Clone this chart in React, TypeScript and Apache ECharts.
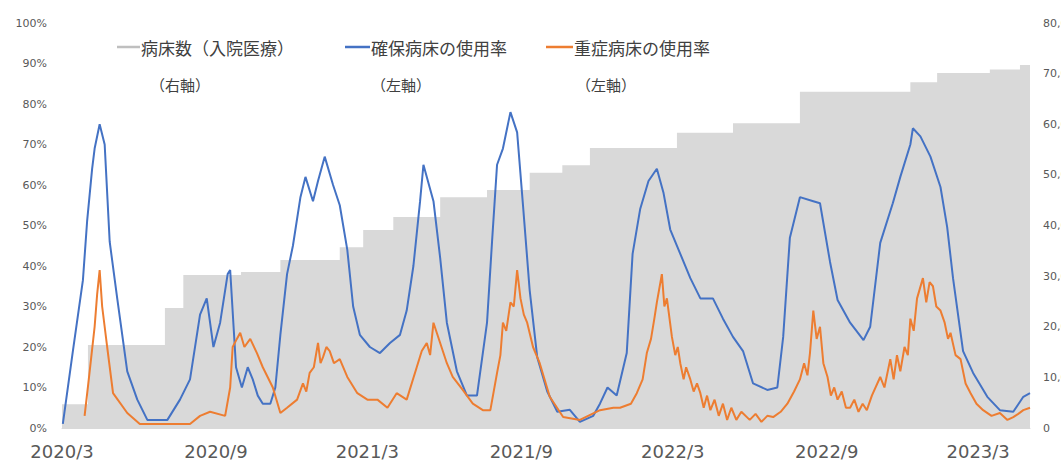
import React, { useEffect, useRef } from "react";
import * as echarts from "echarts";

const START_DATE = "2020-03-01";
const END_DATE = "2023-05-02";

const tickDates = ["2020-03-01", "2020-09-01", "2021-03-01", "2021-09-01", "2022-03-01", "2022-09-01", "2023-03-01"];
const tickLabels = ["2020/3", "2020/9", "2021/3", "2021/9", "2022/3", "2022/9", "2023/3"];

const legendNames = ["病床数（入院医療）", "確保病床の使用率", "重症病床の使用率"];
const legendSubs = ["（右軸）", "（左軸）", "（左軸）"];

// 病床数（入院医療）, right axis, step levels
const bedsData: [string, number][] = [
  ["2020-03-01", 4700], ["2020-04-01", 16400], ["2020-07-02", 23700], ["2020-07-24", 30200],
  ["2020-10-01", 30800], ["2020-11-17", 33200], ["2021-01-27", 35700], ["2021-02-24", 39100],
  ["2021-04-01", 41700], ["2021-05-27", 45600], ["2021-07-22", 47000], ["2021-09-11", 50400],
  ["2021-10-20", 51900], ["2021-11-22", 55300], ["2022-03-06", 58300], ["2022-05-12", 60200],
  ["2022-07-31", 66400], ["2022-12-10", 68300], ["2023-01-11", 70100], ["2023-03-15", 70800],
  ["2023-04-20", 71700], ["2023-05-02", 71700],
];

// 確保病床の使用率 (%)
const securedRate: [string, number][] = [
  ["2020-03-02", 1], ["2020-03-14", 19], ["2020-03-26", 36.5], ["2020-03-31", 51], ["2020-04-06", 64],
  ["2020-04-09", 69], ["2020-04-15", 75], ["2020-04-21", 70], ["2020-04-27", 46], ["2020-05-06", 32],
  ["2020-05-18", 14], ["2020-05-30", 7], ["2020-06-11", 2], ["2020-07-05", 2], ["2020-07-20", 7],
  ["2020-08-01", 12], ["2020-08-13", 28], ["2020-08-21", 32], ["2020-08-29", 20], ["2020-09-06", 26],
  ["2020-09-15", 38], ["2020-09-18", 39], ["2020-09-25", 15], ["2020-10-02", 10], ["2020-10-09", 15],
  ["2020-10-15", 12], ["2020-10-21", 8], ["2020-10-27", 6], ["2020-11-05", 6], ["2020-11-11", 10],
  ["2020-11-17", 23], ["2020-11-25", 38], ["2020-12-02", 45], ["2020-12-11", 57], ["2020-12-17", 62],
  ["2020-12-26", 56], ["2021-01-01", 61], ["2021-01-09", 67], ["2021-01-19", 60], ["2021-01-27", 55],
  ["2021-02-05", 44], ["2021-02-12", 30], ["2021-02-20", 23], ["2021-03-04", 20], ["2021-03-16", 18.5],
  ["2021-03-28", 21], ["2021-04-09", 23], ["2021-04-17", 29], ["2021-04-25", 40], ["2021-05-03", 56],
  ["2021-05-07", 65], ["2021-05-19", 56], ["2021-05-27", 42], ["2021-06-04", 26], ["2021-06-16", 14],
  ["2021-06-28", 8], ["2021-07-10", 8], ["2021-07-22", 26], ["2021-07-28", 46], ["2021-08-03", 65],
  ["2021-08-10", 69], ["2021-08-19", 78], ["2021-08-27", 73], ["2021-09-03", 55], ["2021-09-11", 34],
  ["2021-09-20", 17.5], ["2021-10-02", 9], ["2021-10-14", 4], ["2021-10-29", 4.5], ["2021-11-10", 1.5],
  ["2021-11-26", 3], ["2021-12-04", 6], ["2021-12-13", 10], ["2021-12-24", 8], ["2022-01-05", 18.5],
  ["2022-01-12", 43], ["2022-01-21", 54], ["2022-01-31", 61], ["2022-02-10", 64], ["2022-02-18", 58],
  ["2022-02-26", 49], ["2022-03-10", 43], ["2022-03-22", 37], ["2022-04-03", 32], ["2022-04-18", 32],
  ["2022-04-30", 27], ["2022-05-12", 22.5], ["2022-05-24", 19], ["2022-06-05", 11], ["2022-06-22", 9.4],
  ["2022-07-04", 10], ["2022-07-11", 22.5], ["2022-07-19", 47], ["2022-07-31", 57], ["2022-08-16", 56],
  ["2022-08-24", 55.5], ["2022-09-05", 41], ["2022-09-14", 31.6], ["2022-09-29", 26], ["2022-10-15", 21.7],
  ["2022-10-23", 25], ["2022-11-04", 45.7], ["2022-11-19", 55.5], ["2022-11-28", 62], ["2022-12-10", 70],
  ["2022-12-13", 74], ["2022-12-22", 72], ["2023-01-03", 67], ["2023-01-15", 59.5], ["2023-01-23", 49.6],
  ["2023-01-30", 37], ["2023-02-11", 19], ["2023-02-23", 13.6], ["2023-03-12", 7.7], ["2023-03-27", 4.4],
  ["2023-04-12", 4], ["2023-04-24", 7.7], ["2023-05-02", 8.6],
];

// 重症病床の使用率 (%)
const severeRate: [string, number][] = [
  ["2020-03-28", 3], ["2020-04-02", 12], ["2020-04-09", 25], ["2020-04-12", 33], ["2020-04-15", 39],
  ["2020-04-18", 30], ["2020-04-24", 20], ["2020-05-01", 8.6], ["2020-05-18", 3.7], ["2020-06-02", 1],
  ["2020-08-01", 1], ["2020-08-13", 3], ["2020-08-25", 4], ["2020-09-12", 3], ["2020-09-18", 10],
  ["2020-09-21", 20], ["2020-09-26", 22], ["2020-09-30", 23.5], ["2020-10-05", 20], ["2020-10-12", 22],
  ["2020-10-20", 18.5], ["2020-10-27", 15], ["2020-11-08", 10], ["2020-11-17", 3.7], ["2020-11-25", 5],
  ["2020-12-07", 7], ["2020-12-14", 11], ["2020-12-18", 9], ["2020-12-22", 13.6], ["2020-12-27", 15],
  ["2021-01-01", 21], ["2021-01-04", 16], ["2021-01-07", 17.5], ["2021-01-11", 20], ["2021-01-15", 19],
  ["2021-01-20", 16], ["2021-01-27", 17], ["2021-02-05", 12.6], ["2021-02-17", 8.6], ["2021-03-01", 7],
  ["2021-03-13", 7], ["2021-03-25", 5], ["2021-04-05", 8.6], ["2021-04-17", 7], ["2021-04-29", 15],
  ["2021-05-05", 19], ["2021-05-11", 21], ["2021-05-15", 18], ["2021-05-19", 26], ["2021-05-27", 21],
  ["2021-06-04", 16], ["2021-06-11", 12.6], ["2021-06-23", 9.4], ["2021-07-05", 6], ["2021-07-17", 4.4],
  ["2021-07-26", 4.4], ["2021-08-03", 13.6], ["2021-08-07", 18], ["2021-08-10", 26], ["2021-08-14", 24],
  ["2021-08-19", 31], ["2021-08-23", 30], ["2021-08-27", 39], ["2021-08-31", 32], ["2021-09-04", 28],
  ["2021-09-08", 26], ["2021-09-15", 20], ["2021-09-23", 16], ["2021-10-05", 7.7], ["2021-10-21", 2.7],
  ["2021-11-10", 2], ["2021-12-04", 4.4], ["2021-12-20", 5], ["2021-12-28", 5], ["2022-01-10", 6],
  ["2022-01-17", 8.6], ["2022-01-24", 12], ["2022-01-29", 18.5], ["2022-02-03", 22], ["2022-02-07", 27],
  ["2022-02-10", 31], ["2022-02-16", 38], ["2022-02-19", 30], ["2022-02-22", 32], ["2022-02-28", 22.5],
  ["2022-03-04", 18], ["2022-03-07", 20], ["2022-03-10", 16], ["2022-03-14", 12], ["2022-03-17", 15],
  ["2022-03-22", 12], ["2022-03-26", 9], ["2022-03-30", 11], ["2022-04-03", 8.6], ["2022-04-07", 5],
  ["2022-04-11", 8], ["2022-04-15", 4.4], ["2022-04-20", 7], ["2022-04-25", 3], ["2022-04-30", 6],
  ["2022-05-05", 2], ["2022-05-10", 5], ["2022-05-16", 2], ["2022-05-22", 4], ["2022-06-01", 2],
  ["2022-06-08", 3.5], ["2022-06-15", 1.5], ["2022-06-22", 3], ["2022-06-29", 2.7], ["2022-07-08", 4],
  ["2022-07-16", 6], ["2022-07-24", 9], ["2022-07-31", 12], ["2022-08-05", 16], ["2022-08-09", 13],
  ["2022-08-12", 18.5], ["2022-08-16", 29], ["2022-08-20", 22], ["2022-08-24", 25], ["2022-08-28", 16],
  ["2022-09-02", 12.6], ["2022-09-06", 8], ["2022-09-10", 10], ["2022-09-14", 7], ["2022-09-19", 9],
  ["2022-09-24", 5], ["2022-09-29", 5], ["2022-10-04", 7], ["2022-10-09", 4], ["2022-10-14", 6],
  ["2022-10-19", 4.4], ["2022-10-25", 8], ["2022-11-04", 12.6], ["2022-11-09", 10], ["2022-11-16", 17],
  ["2022-11-20", 12], ["2022-11-24", 18], ["2022-11-28", 14], ["2022-12-03", 20], ["2022-12-07", 18],
  ["2022-12-10", 27], ["2022-12-14", 24], ["2022-12-18", 32], ["2022-12-25", 37], ["2022-12-29", 31],
  ["2023-01-02", 36], ["2023-01-06", 35], ["2023-01-10", 30], ["2023-01-15", 29], ["2023-01-20", 26],
  ["2023-01-24", 22], ["2023-01-27", 23.5], ["2023-02-02", 18], ["2023-02-08", 17], ["2023-02-14", 11],
  ["2023-02-20", 8.6], ["2023-02-27", 6], ["2023-03-07", 4.4], ["2023-03-17", 3], ["2023-03-27", 3.7],
  ["2023-04-05", 2], ["2023-04-12", 2.7], ["2023-04-18", 3.5], ["2023-04-24", 4.4], ["2023-05-02", 5],
];

function buildDays(start: string, end: string): string[] {
  const out: string[] = [];
  const d = new Date(start + "T00:00:00Z");
  const e = new Date(end + "T00:00:00Z");
  while (d.getTime() <= e.getTime()) {
    out.push(d.toISOString().slice(0, 10));
    d.setUTCDate(d.getUTCDate() + 1);
  }
  return out;
}

function toDaily(days: string[], pts: [string, number][]): (number | null)[] {
  const idx: Record<string, number> = {};
  days.forEach((d, i) => (idx[d] = i));
  const arr: (number | null)[] = new Array(days.length).fill(null);
  pts.forEach(([d, v]) => {
    if (idx[d] !== undefined) arr[idx[d]] = v;
  });
  return arr;
}

const COLORS = { beds: "#D9D9D9", bedsLegend: "#BFBFBF", secured: "#4472C4", severe: "#ED7D31" };
const CJK = '"Noto Sans CJK JP", "Noto Sans", sans-serif';

export default function App() {
  const ref = useRef<HTMLDivElement>(null);
  useEffect(() => {
    document.body.style.margin = "0";
    if (!ref.current) return;
    const chart = echarts.init(ref.current, undefined, { renderer: "svg" });
    const days = buildDays(START_DATE, END_DATE);
    const tickMap: Record<string, string> = {};
    tickDates.forEach((d, i) => (tickMap[d] = tickLabels[i]));

    const legendX = [117, 345, 546];
    const legendLineW = [23, 25, 27];
    const legendColors = [COLORS.bedsLegend, COLORS.secured, COLORS.severe];
    const subX = [150, 371, 576];
    const graphics: any[] = [];
    legendNames.forEach((name, i) => {
      graphics.push({
        type: "line",
        shape: { x1: legendX[i], y1: 47, x2: legendX[i] + legendLineW[i], y2: 47 },
        style: { stroke: legendColors[i], lineWidth: 2.5 },
      });
      graphics.push({
        type: "text",
        x: legendX[i] + legendLineW[i] + 1,
        y: 47,
        style: { text: name, fill: "#404040", fontSize: 17, fontFamily: CJK, verticalAlign: "middle" },
      });
      graphics.push({
        type: "text",
        x: subX[i],
        y: 84,
        style: { text: legendSubs[i], fill: "#404040", fontSize: 15, fontFamily: CJK, verticalAlign: "middle" },
      });
    });

    chart.setOption({
      animation: false,
      backgroundColor: "#ffffff",
      grid: { left: 62, right: 31, top: 23, bottom: 42, containLabel: false, outerBoundsMode: "none" },
      xAxis: {
        type: "category",
        data: days,
        boundaryGap: false,
        axisLine: { show: true, lineStyle: { color: "#D9D9D9" } },
        axisTick: { show: false },
        splitLine: { show: false },
        axisLabel: {
          interval: (_i: number, v: string) => tickMap[v] !== undefined,
          formatter: (v: string) => tickMap[v] || "",
          fontSize: 18,
          fontFamily: "DejaVu Sans",
          color: "#595959",
          margin: 14,
          hideOverlap: false,
        },
      },
      yAxis: [
        {
          type: "value",
          min: 0,
          max: 100,
          interval: 10,
          axisLine: { show: false },
          axisTick: { show: false },
          splitLine: { show: false },
          axisLabel: { formatter: "{value}%", fontSize: 11, fontFamily: "DejaVu Sans", color: "#595959", margin: 15 },
        },
        {
          type: "value",
          min: 0,
          max: 80000,
          interval: 10000,
          position: "right",
          axisLine: { show: false },
          axisTick: { show: false },
          splitLine: { show: false },
          axisLabel: {
            formatter: (v: number) => v.toLocaleString("en-US"),
            fontSize: 11,
            fontFamily: "DejaVu Sans",
            color: "#595959",
            margin: 13,
          },
        },
      ],
      series: [
        {
          name: legendNames[0],
          type: "line",
          yAxisIndex: 1,
          step: "end",
          connectNulls: true,
          showSymbol: false,
          symbol: "none",
          data: toDaily(days, bedsData),
          lineStyle: { width: 0, color: COLORS.beds },
          areaStyle: { color: COLORS.beds, opacity: 1 },
          z: 1,
        },
        {
          name: legendNames[1],
          type: "line",
          yAxisIndex: 0,
          connectNulls: true,
          showSymbol: false,
          symbol: "none",
          data: toDaily(days, securedRate),
          lineStyle: { width: 2, color: COLORS.secured },
          z: 2,
        },
        {
          name: legendNames[2],
          type: "line",
          yAxisIndex: 0,
          connectNulls: true,
          showSymbol: false,
          symbol: "none",
          data: toDaily(days, severeRate),
          lineStyle: { width: 2, color: COLORS.severe },
          z: 3,
        },
      ],
      graphic: graphics,
    });
    return () => chart.dispose();
  }, []);
  return <div ref={ref} style={{ position: "fixed", left: 0, top: 0, width: 1061, height: 470 }} />;
}
